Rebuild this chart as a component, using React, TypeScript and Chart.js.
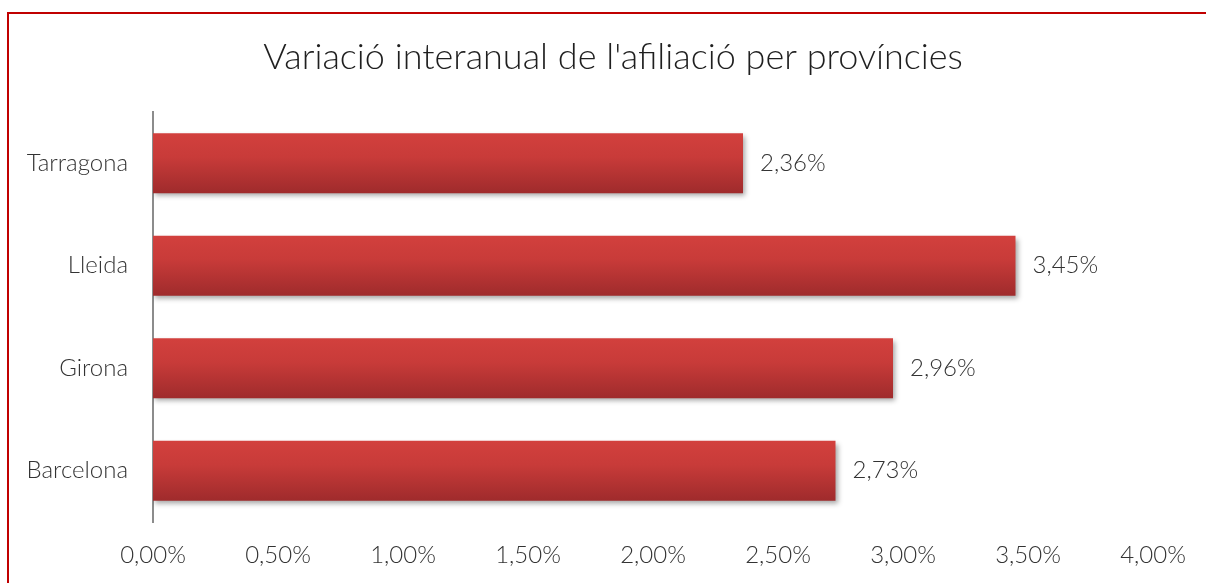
import { useEffect, useRef } from "react";
import { Chart, registerables } from "chart.js";
Chart.register(...registerables);

const chartTitle = "Variació interanual de l'afiliació per províncies";
const categories = ["Tarragona", "Lleida", "Girona", "Barcelona"];
const values = [2.36, 3.45, 2.96, 2.73];
const axisMin = 0;
const axisMax = 4;
const axisStep = 0.5;

const FONT = "Lato";
const fmt = (v: number) => v.toFixed(2).replace(".", ",") + "%";
const BAR_PCT = 0.585;

export default function App() {
  const ref = useRef<HTMLCanvasElement | null>(null);
  useEffect(() => {
    const canvas = ref.current!;
    const framePlugin = {
      id: "frame",
      beforeDraw(chart: any) {
        const ctx = chart.ctx;
        ctx.save();
        ctx.fillStyle = "#ffffff";
        ctx.fillRect(0, 0, chart.width, chart.height);
        ctx.strokeStyle = "#c00000";
        ctx.lineWidth = 2;
        ctx.beginPath();
        ctx.moveTo(8, chart.height + 2);
        ctx.lineTo(8, 13);
        ctx.lineTo(chart.width + 2, 13);
        ctx.stroke();
        ctx.restore();
      },
      afterDraw(chart: any) {
        const ctx = chart.ctx;
        ctx.save();
        ctx.fillStyle = "#1f1f1f";
        ctx.font = `300 36px ${FONT}`;
        ctx.textAlign = "center";
        ctx.textBaseline = "middle";
        ctx.fillText(chartTitle, 613, 57);
        ctx.restore();
      },
    };
    const shadowPlugin = {
      id: "shadowLabels",
      beforeDatasetsDraw(chart: any) {
        const ctx = chart.ctx;
        ctx.save();
        ctx.shadowColor = "rgba(0,0,0,0.35)";
        ctx.shadowBlur = 5;
        ctx.shadowOffsetX = 2;
        ctx.shadowOffsetY = 3;
      },
      afterDatasetsDraw(chart: any) {
        const ctx = chart.ctx;
        ctx.restore();
        const meta = chart.getDatasetMeta(0);
        ctx.save();
        ctx.fillStyle = "#333333";
        ctx.font = `300 24px ${FONT}`;
        ctx.textAlign = "left";
        ctx.textBaseline = "middle";
        meta.data.forEach((bar: any, i: number) => {
          ctx.fillText(fmt(values[i]), bar.x + 17, bar.y);
        });
        ctx.restore();
      },
    };
    const chart = new Chart(canvas, {
      type: "bar",
      data: {
        labels: categories,
        datasets: [
          {
            data: values,
            backgroundColor: (c: any) => {
              const chart = c.chart;
              const y = chart.scales?.y;
              const area = chart.chartArea;
              if (!y || !area || c.dataIndex === undefined) return "#c0393a";
              const center = y.getPixelForValue(c.dataIndex);
              const size = (area.bottom - area.top) / categories.length;
              const h = size * BAR_PCT;
              const g = chart.ctx.createLinearGradient(0, center - h / 2, 0, center + h / 2);
              g.addColorStop(0, "#d2403d");
              g.addColorStop(0.4, "#c83b39");
              g.addColorStop(1, "#9f2b2c");
              return g;
            },
            borderWidth: 0,
            barPercentage: BAR_PCT,
            categoryPercentage: 1,
          },
        ],
      },
      options: {
        indexAxis: "y",
        responsive: false,
        animation: false,
        layout: { padding: { left: 0, right: 53, top: 112, bottom: 0 } },
        plugins: {
          legend: { display: false },
          title: { display: false },
          tooltip: { enabled: false },
        },
        scales: {
          x: {
            min: axisMin,
            max: axisMax,
            grid: { display: false, drawTicks: false },
            border: { display: false },
            ticks: {
              stepSize: axisStep,
              padding: 19,
              color: "#333333",
              font: { family: FONT, size: 24, weight: "300" as any },
              callback: (v: any) => fmt(Number(v)),
            },
            afterFit: (s: any) => {
              s.height = 61;
            },
          },
          y: {
            grid: { display: false, drawTicks: false },
            border: { display: true, color: "#8c8c8c", width: 2 },
            ticks: {
              padding: 25,
              color: "#333333",
              font: { family: FONT, size: 24, weight: "300" as any },
            },
            afterFit: (s: any) => {
              s.width = 153;
            },
          },
        },
      },
      plugins: [framePlugin, shadowPlugin],
    });
    return () => chart.destroy();
  }, []);
  return (
    <div style={{ position: "absolute", left: 0, top: 0, width: 1206, height: 583 }}>
      <canvas ref={ref} width={1206} height={583} />
    </div>
  );
}
